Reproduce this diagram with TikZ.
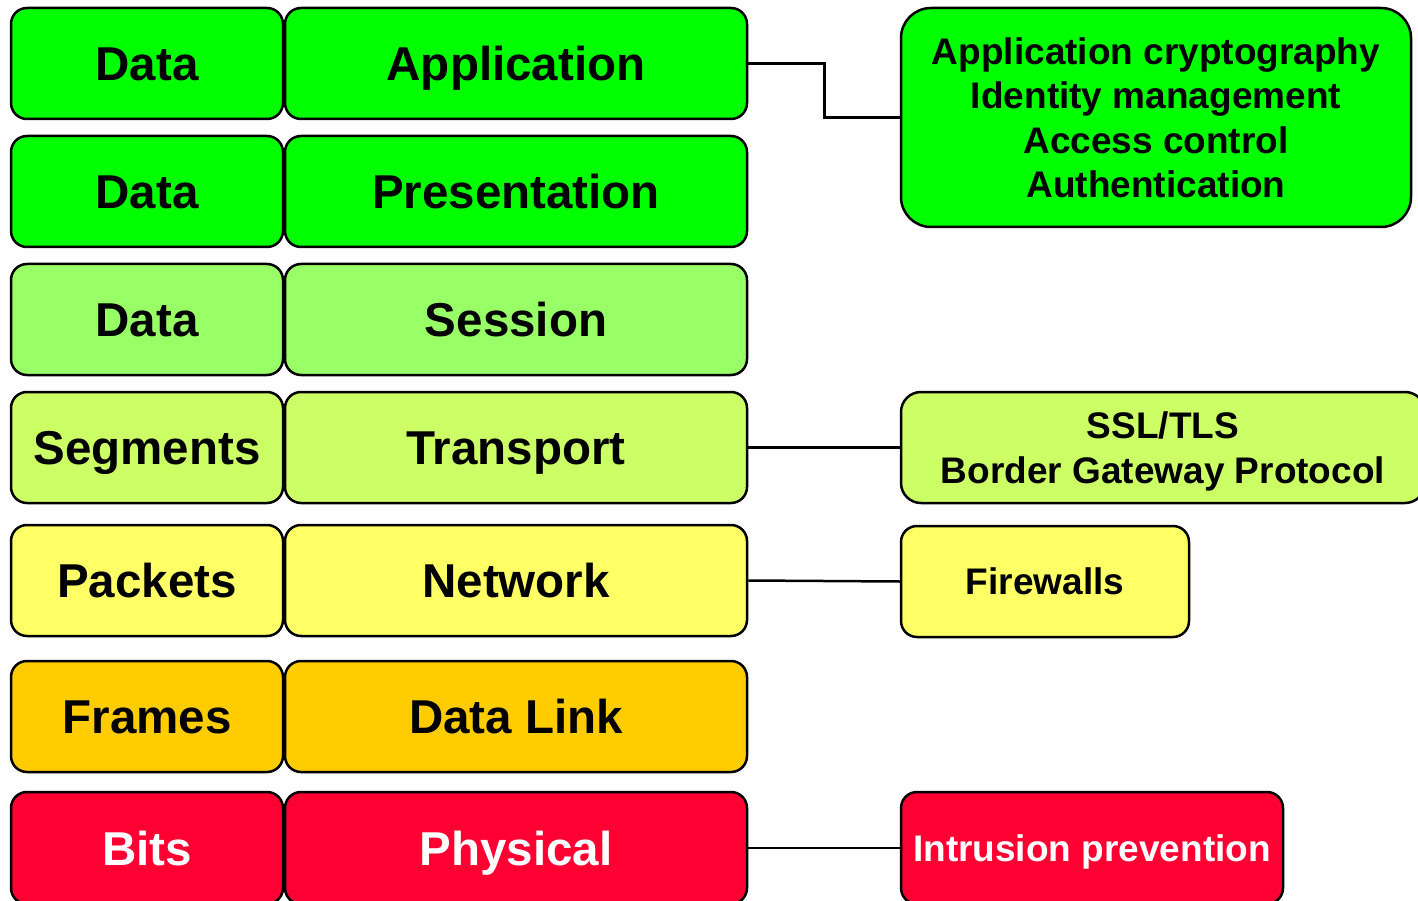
\documentclass[tikz,border=0pt]{standalone}
\usepackage{fontspec}
\setmainfont{Liberation Sans}
\definecolor{cgreen}{HTML}{00FF00}
\definecolor{clgreen}{HTML}{99FF66}
\definecolor{cygreen}{HTML}{CCFF66}
\definecolor{cyellow}{HTML}{FFFF66}
\definecolor{corange}{HTML}{FFCC00}
\definecolor{cred}{HTML}{FF0033}
\begin{document}
\begin{tikzpicture}[x=1pt,y=-1pt,
  box/.style={draw=black, line width=2.5pt, rounded corners=16pt, inner sep=0pt, align=center,
    font=\bfseries\fontsize{47.5}{57}\selectfont, text height=34pt, text depth=0pt},
  pdu/.style={box, minimum width=272pt, minimum height=111pt},
  layer/.style={box, minimum width=462pt, minimum height=111pt},
  side/.style={box, font=\bfseries\fontsize{37}{44.5}\selectfont, text height=26.6pt},
  link/.style={draw=black, line width=2.5pt}]
\useasboundingbox (0,0) rectangle (1418,901);
% PDU column
\node[pdu, fill=cgreen] (d1) at (147,63.5) {Data};
\node[pdu, fill=cgreen] (d2) at (147,191.5) {Data};
\node[pdu, fill=clgreen] (d3) at (147,319.5) {Data};
\node[pdu, fill=cygreen] (seg) at (147,447.5) {Segments};
\node[pdu, fill=cyellow] (pkt) at (147,580.5) {Packets};
\node[pdu, fill=corange] (frm) at (147,716.5) {Frames};
\node[pdu, fill=cred, text=white, minimum height=112pt] (bits) at (147,848) {Bits};
% Layers
\node[layer, fill=cgreen] (app) at (516,63.5) {Application};
\node[layer, fill=cgreen] (pres) at (516,191.5) {Presentation};
\node[layer, fill=clgreen] (sess) at (516,319.5) {Session};
\node[layer, fill=cygreen] (trans) at (516,447.5) {Transport};
\node[layer, fill=cyellow] (net) at (516,580.5) {Network};
\node[layer, fill=corange] (dl) at (516,716.5) {Data Link};
\node[layer, fill=cred, text=white, minimum height=112pt] (phys) at (516,848) {Physical};
% Side boxes
\node[side, fill=cgreen, rounded corners=30pt, minimum width=510pt, minimum height=219pt, text height=160.1pt] (crypto) at (1156,117.5)
  {Application cryptography\\Identity management\\Access control\\Authentication};
\node[side, fill=cygreen, rounded corners=20pt, minimum width=524pt, minimum height=111pt, text height=71.1pt] (ssl) at (1163,447.5)
  {SSL/TLS\\Border Gateway Protocol};
\node[side, fill=cyellow, minimum width=288pt, minimum height=111pt] (fw) at (1045,581.5) {Firewalls};
\node[side, fill=cred, text=white, minimum width=382pt, minimum height=112pt] (ips) at (1092,848) {Intrusion prevention};
% Connectors
\draw[link] (app.east) -- ++(76,0) |- (crypto.west);
\draw[link] (trans.east) -- (ssl.west);
\draw[link] (net.east) -- (fw.west);
\draw[link] (phys.east) -- (ips.west);
\end{tikzpicture}
\end{document}
